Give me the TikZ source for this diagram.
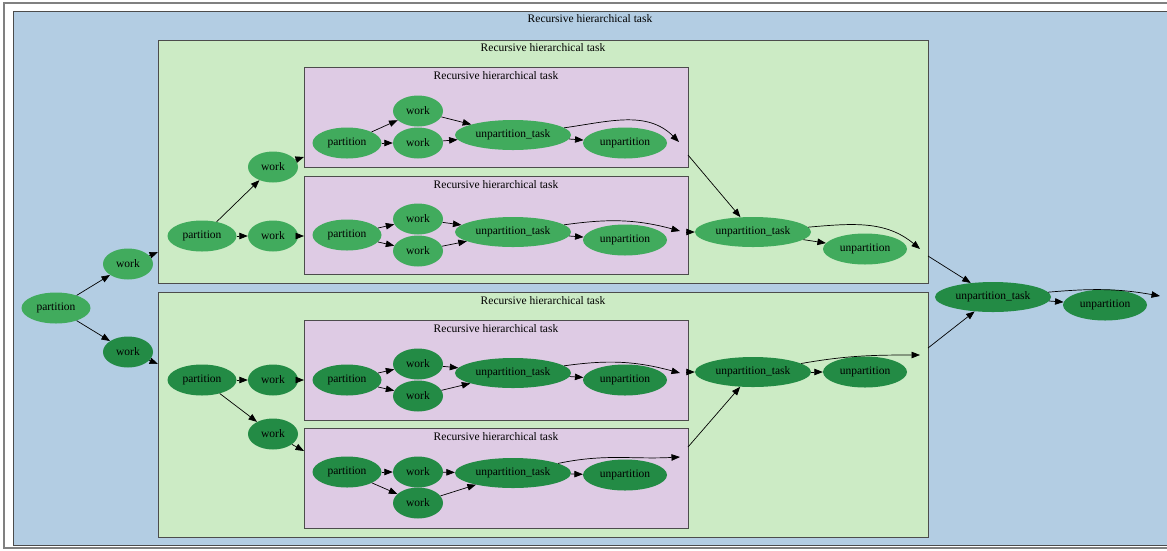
\documentclass[tikz,border=0pt]{standalone}
\usepackage{fontspec}
\setmainfont{Liberation Serif}
\usetikzlibrary{positioning,arrows.meta,shapes.geometric}

\definecolor{outerblue}{HTML}{B3CDE3}
\definecolor{midgreen}{HTML}{CCEBC5}
\definecolor{innerlilac}{HTML}{DECBE4}
\definecolor{litenode}{HTML}{41AB5D}
\definecolor{darknode}{HTML}{238B45}

\begin{document}
\begin{tikzpicture}[
  x=1pt, y=1pt,
  every node/.style={font=\fontsize{11.5}{13}\selectfont},
  cluster/.style={draw=black!70, line width=0.8pt},
  oval/.style={ellipse, inner sep=0pt, minimum height=31pt},
  part/.style={oval, minimum width=69pt},
  wrk/.style={oval, minimum width=50pt},
  utask/.style={oval, minimum width=116pt, minimum height=30pt},
  upart/.style={oval, minimum width=84pt},
  lite/.style={fill=litenode},
  dark/.style={fill=darknode},
  arrow/.style={-{Triangle[length=8.5pt,width=6.5pt]}, line width=0.7pt}
]
\clip (0,0) rectangle (1167,-550);
\fill[white] (0,0) rectangle (1167,-550);
\draw[black!50, line width=1.3pt] (4,-3) rectangle (1175,-548);

% Clusters
\filldraw[cluster, fill=outerblue] (13,-11) rectangle (1170,-545);
\filldraw[cluster, fill=midgreen] (158,-40) rectangle (928,-283);
\filldraw[cluster, fill=midgreen] (158,-292) rectangle (928,-537);
\filldraw[cluster, fill=innerlilac] (304,-67) rectangle (688,-167);
\filldraw[cluster, fill=innerlilac] (304,-176) rectangle (688,-274);
\filldraw[cluster, fill=innerlilac] (304,-320) rectangle (688,-420);
\filldraw[cluster, fill=innerlilac] (304,-428) rectangle (688,-528);

% Cluster titles
\node (t0) at (590,-19) {Recursive hierarchical task};
\node (t1) at (543,-48) {Recursive hierarchical task};
\node (t2) at (543,-301) {Recursive hierarchical task};
\node (tA) at (496,-76) {Recursive hierarchical task};
\node (tB) at (496,-185) {Recursive hierarchical task};
\node (tC) at (496,-329) {Recursive hierarchical task};
\node (tD) at (496,-437) {Recursive hierarchical task};

% Outer level
\node[part, lite] (p0) at (56,-308) {partition};
\node[wrk, lite] (w0a) at (128,-264) {work};
\node[wrk, dark] (w0b) at (128,-352) {work};
\node[utask, dark] (ut0) at (993,-297) {unpartition\_task};
\node[upart, dark] (u0) at (1105,-305) {unpartition};

% Upper green cluster
\node[part, lite] (p1) at (202,-236) {partition};
\node[wrk, lite] (w1a) at (273,-167) {work};
\node[wrk, lite] (w1b) at (273,-236) {work};
\node[utask, lite] (ut1) at (753,-232) {unpartition\_task};
\node[upart, lite] (u1) at (865,-249) {unpartition};

% Lower green cluster
\node[part, dark] (p2) at (202,-380) {partition};
\node[wrk, dark] (w2a) at (273,-380) {work};
\node[wrk, dark] (w2b) at (273,-434) {work};
\node[utask, dark] (ut2) at (753,-372) {unpartition\_task};
\node[upart, dark] (u2) at (865,-372) {unpartition};

% Inner clusters
\node[part, lite] (pA) at (347,-143) {partition};
\node[wrk, lite] (wAa) at (418,-111) {work};
\node[wrk, lite] (wAb) at (418,-143) {work};
\node[utask, lite] (utA) at (513,-135) {unpartition\_task};
\node[upart, lite] (uA) at (625,-143) {unpartition};

\node[part, lite] (pB) at (347,-235) {partition};
\node[wrk, lite] (wBa) at (418,-219) {work};
\node[wrk, lite] (wBb) at (418,-251) {work};
\node[utask, lite] (utB) at (513,-232) {unpartition\_task};
\node[upart, lite] (uB) at (625,-240) {unpartition};

\node[part, dark] (pC) at (347,-380) {partition};
\node[wrk, dark] (wCa) at (418,-364) {work};
\node[wrk, dark] (wCb) at (418,-396) {work};
\node[utask, dark] (utC) at (513,-373) {unpartition\_task};
\node[upart, dark] (uC) at (625,-380) {unpartition};

\node[part, dark] (pD) at (347,-472) {partition};
\node[wrk, dark] (wDa) at (418,-472) {work};
\node[wrk, dark] (wDb) at (418,-503) {work};
\node[utask, dark] (utD) at (513,-473) {unpartition\_task};
\node[upart, dark] (uD) at (625,-475) {unpartition};

% Cluster border points
\coordinate (in1) at (158,-252);
\coordinate (in2) at (158,-364);
\coordinate (out1) at (928,-256);
\coordinate (out2) at (928,-348);
\coordinate (inA) at (304,-157);
\coordinate (inB) at (304,-236);
\coordinate (inC) at (304,-380);
\coordinate (inD) at (304,-451);
\coordinate (outA) at (688,-155);
\coordinate (outB) at (688,-232);
\coordinate (outC) at (688,-372);
\coordinate (outD) at (688,-447);
\coordinate (e0) at (1160,-296);
\coordinate (e1) at (920,-249);
\coordinate (e2) at (920,-355);
\coordinate (eA) at (679,-142);
\coordinate (eB) at (680,-231);
\coordinate (eC) at (680,-373);
\coordinate (eD) at (680,-457);

% Arrows - outer level
\draw[arrow] (p0) -- (w0a);
\draw[arrow] (p0) -- (w0b);
\draw[arrow] (w0a) -- (in1);
\draw[arrow] (w0b) -- (in2);
\draw[arrow] (out1) -- (ut0);
\draw[arrow] (out2) -- (ut0);
\draw[arrow] (ut0) -- (u0);
\draw[arrow] (ut0) to[out=5, in=170] (e0);

% Arrows - green clusters
\draw[arrow] (p1) -- (w1a);
\draw[arrow] (p1) -- (w1b);
\draw[arrow] (w1a) -- (inA);
\draw[arrow] (w1b) -- (inB);
\draw[arrow] (outA) -- (ut1);
\draw[arrow] (outB) -- (ut1);
\draw[arrow] (ut1) -- (u1);
\draw[arrow] (ut1) to[out=5, in=140] (e1);

\draw[arrow] (p2) -- (w2a);
\draw[arrow] (p2) -- (w2b);
\draw[arrow] (w2a) -- (inC);
\draw[arrow] (w2b) -- (inD);
\draw[arrow] (outC) -- (ut2);
\draw[arrow] (outD) -- (ut2);
\draw[arrow] (ut2) -- (u2);
\draw[arrow] (ut2) to[out=10, in=180] (e2);

% Arrows - inner clusters
\draw[arrow] (pA) -- (wAa);
\draw[arrow] (pA) -- (wAb);
\draw[arrow] (wAa) -- (utA);
\draw[arrow] (wAb) -- (utA);
\draw[arrow] (utA) -- (uA);
\draw[arrow] (utA) to[out=8, in=135] (eA);

\draw[arrow] (pB) -- (wBa);
\draw[arrow] (pB) -- (wBb);
\draw[arrow] (wBa) -- (utB);
\draw[arrow] (wBb) -- (utB);
\draw[arrow] (utB) -- (uB);
\draw[arrow] (utB) to[out=8, in=165] (eB);

\draw[arrow] (pC) -- (wCa);
\draw[arrow] (pC) -- (wCb);
\draw[arrow] (wCa) -- (utC);
\draw[arrow] (wCb) -- (utC);
\draw[arrow] (utC) -- (uC);
\draw[arrow] (utC) to[out=8, in=165] (eC);

\draw[arrow] (pD) -- (wDa);
\draw[arrow] (pD) -- (wDb);
\draw[arrow] (wDa) -- (utD);
\draw[arrow] (wDb) -- (utD);
\draw[arrow] (utD) -- (uD);
\draw[arrow] (utD) to[out=12, in=183] (eD);

\end{tikzpicture}
\end{document}
